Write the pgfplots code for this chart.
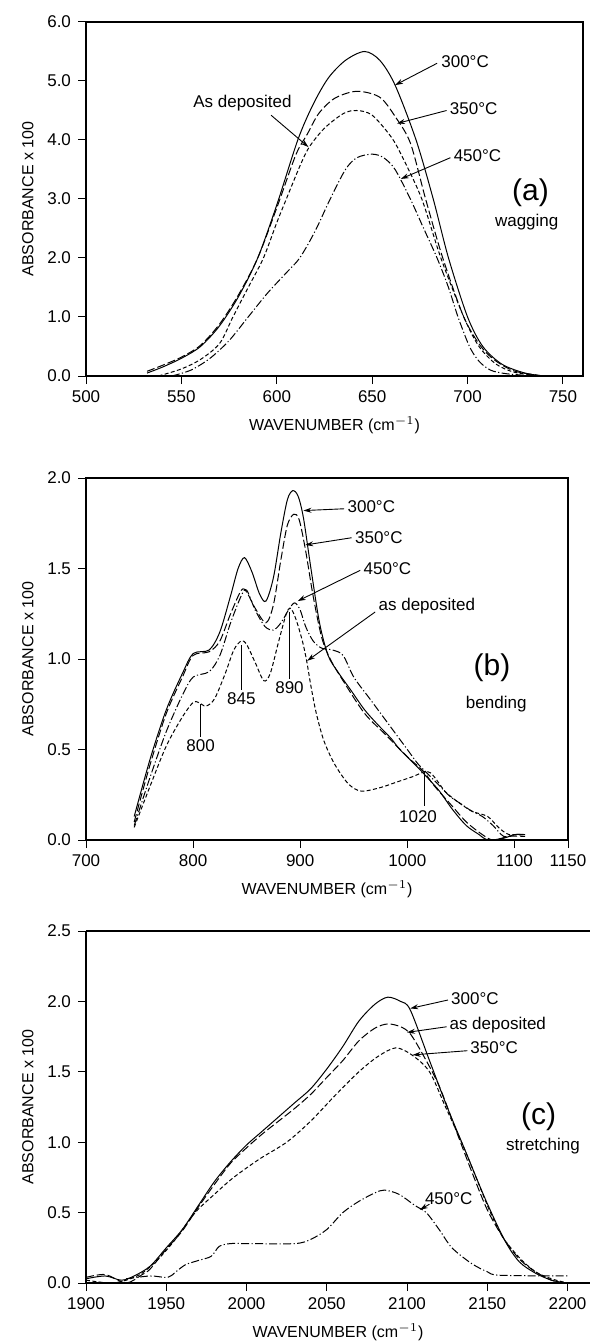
\documentclass[border=0pt]{standalone}
\usepackage{fontspec}
\setmainfont{Liberation Sans}
\usepackage{pgfplots}
\pgfplotsset{compat=1.18}
\usetikzlibrary{arrows.meta}

\pgfplotsset{
  irstyle/.style={
    scale only axis, clip=false, anchor=north west,
    tick align=outside, tick pos=left, major tick length=4pt,
    axis line style={line width=0.6pt},
    every tick/.style={black, line width=0.5pt},
    tick label style={font=\fontsize{8.5}{10}\selectfont},
    label style={font=\fontsize{8}{10}\selectfont},
    /pgf/number format/assume math mode=true,
    xticklabel style={/pgf/number format/.cd, fixed, set thousands separator={}},
    yticklabel style={/pgf/number format/.cd, fixed, fixed zerofill, precision=1},
    xlabel={WAVENUMBER (cm$^{-1}$)},
    ylabel={ABSORBANCE x 100},
    every axis plot/.append style={black, line width=0.5pt, smooth, no marks},
  },
}
\tikzset{
  annot/.style={font=\fontsize{8.5}{10}\selectfont, inner sep=1pt},
  arr/.style={-{Stealth[length=4pt,width=2.5pt]}, line width=0.45pt},
  big/.style={font=\fontsize{15}{16}\selectfont},
  longdash/.style={dash pattern=on 4pt off 1.5pt},
  shortdash/.style={dash pattern=on 2pt off 1.2pt},
  dashdot/.style={dash pattern=on 4pt off 1.2pt on 0.6pt off 1.2pt},
}

\begin{document}
\begin{tikzpicture}
\useasboundingbox (0,0) rectangle (295pt,-671pt);

% (a) wagging
\begin{axis}[irstyle, at={(43pt,-11pt)}, width=248.5pt, height=177pt,
  xmin=500, xmax=760.5, ymin=0, ymax=6,
  xtick={500,550,...,750}, ytick={0,1,...,6}]
\addplot[solid] coordinates {(532,0.05) (540,0.15) (550,0.3) (560,0.5) (570,0.85) (580,1.35) (590,2.0) (600,2.9) (611,4.0) (619,4.6) (627,5.05) (636,5.35) (646,5.5) (654,5.35) (662,4.93) (673,4.0) (682,3.0) (690,2.0) (700,1.0) (708,0.5) (718,0.2) (730,0.05) (740,0.0)};
\addplot[longdash] coordinates {(532,0.08) (540,0.18) (550,0.32) (560,0.52) (570,0.88) (580,1.38) (590,2.0) (600,2.85) (610,3.75) (616,4.1) (622,4.45) (630,4.7) (640,4.82) (648,4.8) (655,4.7) (662,4.4) (670,3.95) (678,3.0) (687,2.0) (698,1.0) (707,0.5) (715,0.25) (725,0.08) (740,0.0)};
\addplot[shortdash] coordinates {(538,0.0) (550,0.12) (560,0.28) (570,0.55) (577,1.0) (585,1.5) (593,2.0) (600,2.6) (605,3.0) (612,3.55) (617,3.88) (625,4.2) (635,4.45) (642,4.5) (650,4.42) (660,4.05) (666,3.7) (676,3.0) (686,2.0) (698,1.0) (706,0.5) (715,0.2) (725,0.06) (740,0.0)};
\addplot[dashdot] coordinates {(545,0.0) (555,0.1) (565,0.3) (575,0.6) (585,1.0) (595,1.4) (605,1.75) (612,2.0) (620,2.45) (628,3.0) (636,3.5) (642,3.7) (650,3.76) (656,3.7) (662,3.5) (670,3.0) (677,2.5) (684,2.0) (690,1.5) (695,1.0) (701,0.5) (706,0.25) (712,0.1) (720,0.04) (735,0.0)};
\node[annot, anchor=west] at (axis cs:685,5.32) {300°C};
\draw[arr] (axis cs:684,5.3) -- (axis cs:662,4.93);
\node[annot, anchor=west] at (axis cs:689.5,4.53) {350°C};
\draw[arr] (axis cs:689,4.5) -- (axis cs:663,4.28);
\node[annot, anchor=west] at (axis cs:691.5,3.74) {450°C};
\draw[arr] (axis cs:691,3.7) -- (axis cs:665,3.34);
\node[annot] at (axis cs:582,4.62) {As deposited};
\draw[arr] (axis cs:597,4.42) -- (axis cs:616.6,3.88);
\node[big] at (axis cs:733,3.1) {(a)};
\node[annot] at (axis cs:731,2.6) {wagging};
\end{axis}

% (b) bending
\begin{axis}[irstyle, at={(43pt,-239pt)}, width=241pt, height=181pt,
  xmin=700, xmax=1150, ymin=0, ymax=2,
  xtick={700,800,900,1000,1100,1150}, ytick={0,0.5,...,2.0}]
\addplot[solid] coordinates {(745,0.13) (760,0.45) (775,0.72) (790,0.92) (800,1.03) (815,1.05) (825,1.15) (835,1.35) (842,1.5) (848,1.56) (855,1.48) (862,1.36) (868,1.32) (875,1.45) (882,1.7) (888,1.88) (893,1.93) (898,1.9) (903,1.78) (910,1.5) (918,1.2) (926,1.02) (935,0.93) (947,0.83) (960,0.72) (972,0.64) (985,0.56) (993,0.5) (1010,0.4) (1021,0.33) (1030,0.27) (1042,0.17) (1055,0.08) (1067,0.03) (1075,0.0) (1090,0.01) (1100,0.03) (1110,0.03)};
\addplot[longdash] coordinates {(745,0.1) (760,0.42) (775,0.7) (790,0.9) (800,1.02) (815,1.04) (825,1.1) (835,1.25) (845,1.38) (850,1.37) (858,1.28) (868,1.2) (875,1.3) (882,1.55) (888,1.74) (894,1.8) (899,1.77) (905,1.6) (912,1.35) (920,1.12) (928,1.0) (940,0.88) (960,0.7) (980,0.58) (1000,0.46) (1015,0.38) (1025,0.3) (1040,0.2) (1055,0.1) (1070,0.03) (1080,0.0) (1095,0.02) (1110,0.02)};
\addplot[dashdot] coordinates {(745,0.08) (760,0.35) (775,0.6) (790,0.8) (800,0.9) (815,0.93) (825,1.02) (835,1.2) (845,1.35) (850,1.38) (858,1.27) (867,1.18) (875,1.16) (882,1.2) (890,1.28) (895,1.31) (900,1.27) (905,1.18) (912,1.1) (920,1.06) (930,1.05) (940,1.02) (950,0.9) (965,0.78) (980,0.66) (990,0.58) (1000,0.5) (1010,0.42) (1020,0.36) (1030,0.3) (1040,0.24) (1050,0.2) (1060,0.16) (1070,0.13) (1080,0.08) (1090,0.02) (1100,0.03) (1110,0.03)};
\addplot[shortdash] coordinates {(745,0.07) (760,0.3) (775,0.52) (790,0.68) (800,0.76) (805,0.76) (812,0.74) (820,0.78) (830,0.92) (838,1.05) (845,1.1) (850,1.08) (858,0.98) (866,0.88) (872,0.92) (880,1.1) (887,1.25) (891,1.28) (896,1.22) (902,1.1) (906,0.99) (910,0.85) (915,0.7) (922,0.55) (932,0.42) (945,0.31) (957,0.27) (975,0.29) (990,0.32) (1005,0.35) (1018,0.38) (1025,0.35) (1035,0.27) (1045,0.22) (1060,0.16) (1075,0.13) (1085,0.07) (1095,0.03) (1110,0.03)};
\node[annot, anchor=west] at (axis cs:942,1.84) {300°C};
\draw[arr] (axis cs:941,1.83) -- (axis cs:903,1.82);
\node[annot, anchor=west] at (axis cs:949,1.67) {350°C};
\draw[arr] (axis cs:948,1.67) -- (axis cs:904.7,1.63);
\node[annot, anchor=west] at (axis cs:957,1.5) {450°C};
\draw[arr] (axis cs:956,1.49) -- (axis cs:897.6,1.32);
\node[annot, anchor=west] at (axis cs:971,1.29) {as deposited};
\draw[arr] (axis cs:970,1.26) -- (axis cs:906.5,0.99);
\node[big] at (axis cs:1079,0.95) {(b)};
\node[annot] at (axis cs:1083,0.75) {bending};
\node[annot] at (axis cs:807,0.52) {800};
\draw[line width=0.45pt] (axis cs:807,0.57) -- (axis cs:807,0.75);
\node[annot] at (axis cs:845,0.78) {845};
\draw[line width=0.45pt] (axis cs:845,0.83) -- (axis cs:845,1.08);
\node[annot] at (axis cs:890,0.84) {890};
\draw[line width=0.45pt] (axis cs:890,0.89) -- (axis cs:890,1.26);
\node[annot] at (axis cs:1010,0.13) {1020};
\draw[line width=0.45pt] (axis cs:1016,0.19) -- (axis cs:1016,0.37);
\end{axis}

% (c) stretching
\begin{axis}[irstyle, at={(43pt,-465.5pt)}, width=252pt, height=176pt,
  axis x line*=box, axis y line*=left, xtick pos=bottom,
  xmin=1900, xmax=2214, ymin=0, ymax=2.5,
  xtick={1900,1950,...,2200}, ytick={0,0.5,...,2.5}]
\addplot[solid] coordinates {(1900,0.03) (1912,0.05) (1922,0.02) (1930,0.05) (1940,0.12) (1950,0.25) (1960,0.38) (1970,0.55) (1980,0.72) (1990,0.86) (2000,0.98) (2010,1.08) (2020,1.18) (2030,1.28) (2040,1.38) (2050,1.52) (2060,1.68) (2070,1.86) (2080,1.98) (2088,2.03) (2096,2.0) (2102,1.94) (2114,1.58) (2125,1.25) (2137,0.92) (2149,0.59) (2161,0.3) (2170,0.15) (2180,0.07) (2190,0.02) (2199,0.0)};
\addplot[longdash] coordinates {(1900,0.04) (1912,0.06) (1925,0.0) (1935,0.06) (1940,0.1) (1950,0.24) (1960,0.37) (1970,0.54) (1980,0.7) (1990,0.85) (2000,0.96) (2010,1.06) (2020,1.15) (2030,1.24) (2040,1.34) (2050,1.46) (2060,1.58) (2070,1.72) (2080,1.81) (2088,1.84) (2096,1.82) (2102,1.77) (2110,1.62) (2120,1.4) (2130,1.1) (2140,0.8) (2150,0.52) (2160,0.32) (2170,0.17) (2180,0.08) (2190,0.02) (2197,0.0)};
\addplot[shortdash] coordinates {(1900,0.02) (1915,0.0) (1925,0.02) (1935,0.07) (1945,0.17) (1955,0.3) (1968,0.5) (1980,0.63) (1992,0.75) (2008,0.88) (2025,1.0) (2040,1.15) (2055,1.33) (2070,1.5) (2082,1.61) (2093,1.67) (2103,1.62) (2114,1.5) (2124,1.25) (2134,1.0) (2143,0.75) (2152,0.5) (2160,0.32) (2170,0.18) (2180,0.08) (2190,0.03) (2200,0.0)};
\addplot[dashdot] coordinates {(1925,0.03) (1940,0.05) (1951,0.04) (1956,0.08) (1962,0.13) (1970,0.16) (1978,0.19) (1983,0.26) (1990,0.28) (2000,0.28) (2030,0.28) (2040,0.31) (2050,0.38) (2060,0.5) (2070,0.58) (2080,0.64) (2086,0.66) (2095,0.63) (2105,0.55) (2112,0.5) (2120,0.38) (2128,0.25) (2140,0.14) (2150,0.08) (2158,0.055) (2200,0.05)};
\node[annot, anchor=west] at (axis cs:2126,2.02) {300°C};
\draw[arr] (axis cs:2125.5,2.01) -- (axis cs:2102,1.95);
\node[annot, anchor=west] at (axis cs:2125,1.83) {as deposited};
\draw[arr] (axis cs:2124.7,1.82) -- (axis cs:2100,1.78);
\node[annot, anchor=west] at (axis cs:2138,1.67) {350°C};
\draw[arr] (axis cs:2137.6,1.65) -- (axis cs:2103.5,1.62);
\node[annot] at (axis cs:2126,0.6) {450°C};
\draw[arr] (axis cs:2114,0.56) -- (axis cs:2108,0.52);
\node[big] at (axis cs:2182,1.18) {(c)};
\node[annot] at (axis cs:2184.7,0.97) {stretching};
\end{axis}
\end{tikzpicture}
\end{document}
